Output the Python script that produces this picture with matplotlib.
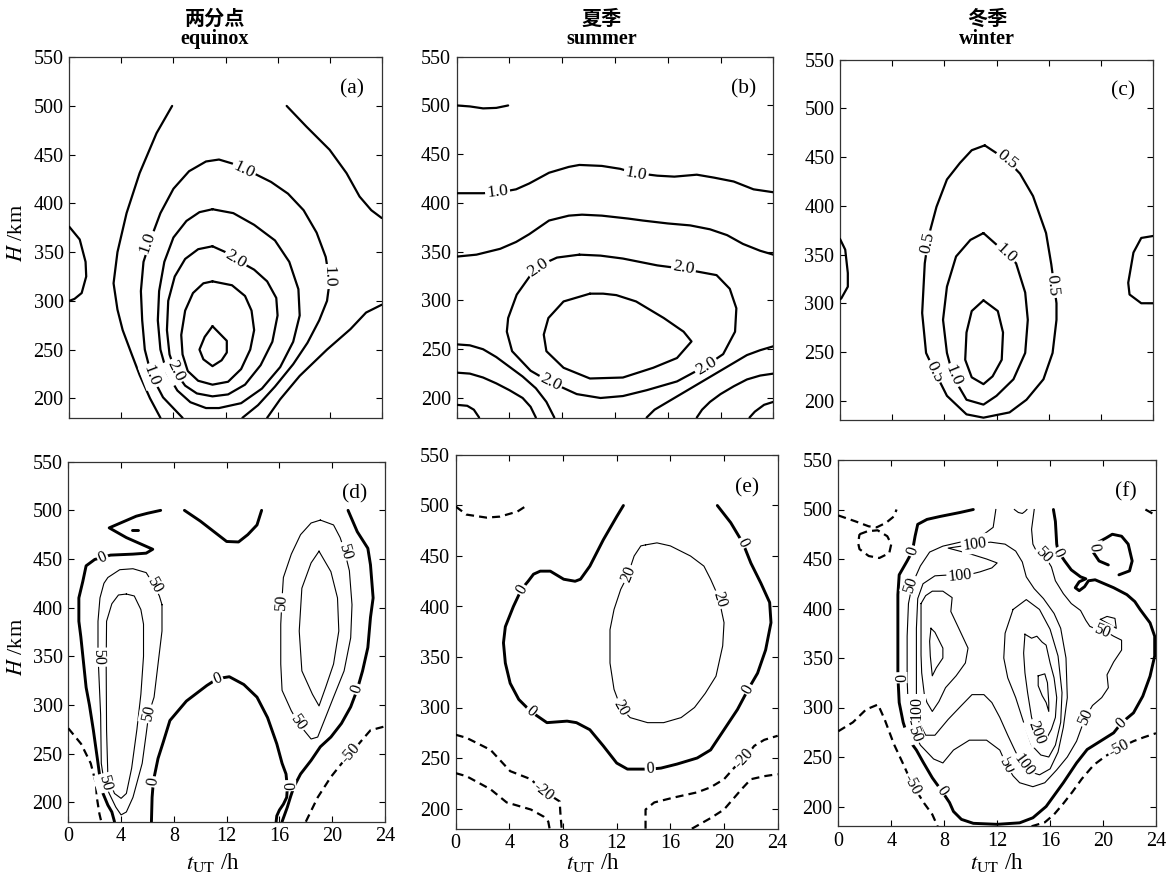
import numpy as np
import matplotlib
matplotlib.use("Agg")
import matplotlib.pyplot as plt

plt.rcParams['font.family'] = ['Liberation Serif', 'DejaVu Serif']
plt.rcParams['mathtext.fontset'] = 'stix'

# ------------------------------------------------------------------ data
time_ticks = [0, 4, 8, 12, 16, 20, 24]
height_ticks = [200, 250, 300, 350, 400, 450, 500, 550]
titles_cn = ["两分点", "夏季", "冬季"]
titles_en = ["equinox", "summer", "winter"]
panel_tags = ["(a)", "(b)", "(c)", "(d)", "(e)", "(f)"]

# contour lines, each a list of (t_UT [h], H [km])
# (a) equinox, ratio
a_05_blob = [(0, 376), (0.8, 363), (1.25, 340), (1.3, 325), (0.95, 308), (0.4, 302), (0, 300)]
a_05_left = [(7.9, 500), (6.7, 472), (5.4, 431), (4.4, 390), (3.7, 350), (3.4, 318), (3.7, 291),
             (4.1, 270), (4.8, 245), (5.4, 224), (6.2, 200), (7.0, 180)]
a_05_rtop = [(16.7, 500), (18.2, 479), (20.0, 455), (21.3, 431), (22.3, 407), (23.2, 393), (24, 385)]
a_05_rbot = [(24, 296), (22.8, 288), (21.6, 271), (19.8, 250), (17.7, 223), (16.2, 199), (15.2, 180)]
a_10 = [(8.7, 180), (7.2, 201), (6.3, 224), (5.8, 250), (5.6, 280), (5.5, 310), (5.7, 340), (6.3, 365),
        (7.0, 390), (8.0, 415), (9.2, 433), (10.5, 443), (11.5, 445), (12.5, 441), (14.0, 432),
        (15.5, 422), (16.8, 410), (18.0, 393), (19.0, 370), (19.7, 345), (20.0, 320), (19.8, 300),
        (19.2, 280), (18.3, 257), (17.2, 235), (15.8, 212), (14.5, 193), (13.3, 180)]
a_15 = [(11, 394), (12.6, 390), (14.2, 378), (15.8, 362), (16.9, 340), (17.6, 312), (17.7, 285),
        (17.2, 258), (16.2, 232), (14.8, 210), (13.2, 195), (11.5, 190), (10.5, 190), (9.3, 196),
        (8.3, 208), (7.5, 226), (7.0, 250), (6.8, 280), (6.9, 310), (7.3, 340), (8.0, 365), (9.0, 382),
        (10.0, 391), (11, 394)]
a_20 = [(11, 356), (12.0, 350), (13.0, 341), (14.2, 332), (15.2, 320), (15.9, 303), (16.0, 285),
        (15.6, 258), (14.7, 234), (13.5, 214), (12.2, 204), (11, 202), (9.8, 205), (8.9, 213),
        (8.2, 226), (7.7, 245), (7.5, 270), (7.6, 300), (8.1, 325), (8.9, 343), (9.9, 353), (11, 356)]
a_25 = [(11, 320), (12.5, 316), (13.5, 305), (14.0, 290), (14.2, 270), (13.9, 250), (13.2, 230),
        (12.2, 217), (11, 214), (9.9, 218), (9.1, 228), (8.7, 245), (8.6, 265), (8.9, 290), (9.5, 308),
        (10.3, 318), (11, 320)]
a_30 = [(11.0, 274), (12.1, 259), (12.1, 247), (11.7, 239), (11.0, 233), (10.3, 240), (10.0, 250),
        (10.4, 263), (11.0, 274)]

# (b) summer, ratio
b_05_top = [(0, 500), (1, 499), (2, 497), (3, 497.5), (3.9, 500)]
b_10 = [(0, 410), (2, 410), (3.3, 411), (4.5, 414), (5.5, 420), (7, 431), (8.5, 437), (9.3, 439),
        (11, 438), (12.4, 435), (13.4, 431), (15.2, 428), (16.5, 427), (18.2, 429), (19.5, 426),
        (21, 422), (22.5, 414), (24, 411)]
b_15 = [(0, 345), (1.5, 347), (3.3, 353), (4.5, 360), (5.5, 368), (7, 382), (8.5, 387), (9.5, 388),
        (11, 387), (13, 384), (14.1, 382), (16, 379), (17.7, 377), (19.2, 373), (20.5, 367),
        (21.7, 358), (23, 351), (24, 347)]
b_20 = [(9.3, 347), (7.6, 344), (6.3, 336), (5.6, 326), (4.55, 306), (3.9, 282), (3.8, 268),
        (4.2, 248), (5.6, 228), (7.0, 217), (9.1, 204), (10.9, 200), (12.6, 202), (14.4, 208),
        (16.7, 217), (18.9, 233), (20.2, 245), (21.1, 268), (21.2, 292), (20.7, 312), (19.7, 326),
        (16.9, 333), (15.2, 336), (12.6, 343), (10.9, 346), (9.3, 347)]
b_25 = [(10.1, 307), (8.1, 299), (6.95, 282), (6.6, 265), (6.8, 248), (8.1, 231), (10.1, 220),
        (12.6, 221), (14.9, 231), (16.7, 241), (17.8, 258), (17.2, 268), (15.7, 282), (13.6, 299),
        (12.1, 305.5), (11.1, 307), (10.1, 307)]
b_15_bl = [(0, 255), (1, 254), (2, 250), (3, 242), (4, 232), (5, 222), (6, 210), (6.8, 196), (7.4, 180)]
b_10_bl = [(0, 226), (1, 225), (2, 221), (3, 215), (4, 208), (5, 200), (5.6, 191), (6.0, 180)]
b_05_bl = [(0, 193), (0.8, 192), (1.3, 188), (1.7, 180)]
b_15_br = [(24, 253), (23, 249), (22, 244), (21, 236), (20, 228), (19, 220), (18, 212), (17, 204),
           (16, 196), (15, 188), (14.4, 180)]
b_10_br = [(24, 225), (23, 223), (22, 219), (21, 212), (20, 204), (19.2, 196), (18.6, 188), (18.2, 180)]
b_05_br = [(24, 196), (23.3, 193), (22.6, 186), (22.2, 180)]

# (c) winter, ratio
c_05 = [(11.1, 462), (12.8, 447), (13.8, 433), (14.8, 410), (15.8, 372), (16.2, 340), (16.6, 300),
        (16.6, 283), (16.3, 249), (15.6, 222), (14.3, 201), (13.0, 188), (11.0, 182.6), (9.7, 186),
        (8.2, 205), (7.3, 229), (6.6, 249), (6.3, 290), (6.5, 341), (6.8, 369), (7.4, 399), (8.2, 427),
        (9.2, 444), (10.1, 457), (11.1, 462)]
c_10 = [(11.0, 372), (12.6, 353), (13.5, 341), (14.2, 311), (14.4, 283), (14.2, 249), (13.3, 222),
        (12.0, 205), (11.0, 196), (9.7, 201), (8.7, 224), (8.2, 249), (7.9, 283), (8.2, 317),
        (8.9, 348), (10.0, 365), (11.0, 372)]
c_15 = [(11.0, 303), (12.1, 292), (12.5, 270), (12.4, 242), (11.7, 225), (11.0, 217), (10.1, 224),
        (9.6, 242), (9.7, 270), (10.1, 292), (11.0, 303)]
c_05_bl = [(0, 366), (0.4, 355), (0.6, 331), (0.6, 317), (0.1, 305), (0, 304)]
c_05_br = [(24, 369), (23.1, 367), (22.5, 352), (22.1, 321), (22.2, 309), (23.1, 300), (24, 300)]

# (d) equinox, difference
d_0_left = [(7.0, 500), (6.0, 497), (5.15, 494), (3.1, 482), (4.4, 472), (6.4, 460), (5.9, 456),
            (4.9, 455), (3.2, 454), (2.0, 449.5), (1.35, 443), (1.1, 427), (0.8, 410), (0.8, 386),
            (0.95, 370), (1.35, 318), (1.6, 300), (1.9, 274), (2.2, 245), (2.36, 229), (2.6, 210),
            (3.0, 197), (3.3, 190), (3.5, 180)]
d_0_dash = [(4.8, 480), (5.3, 480)]
d_0_mid = [(8.8, 500), (10.0, 489), (12.0, 468), (12.9, 467.5), (13.6, 475), (14.3, 485), (14.65, 500)]
d_0_arch = [(6.3, 180), (6.35, 205), (6.45, 222), (6.8, 245), (7.2, 262), (7.7, 284), (8.95, 304),
            (10.5, 320), (11.3, 327), (12.2, 329), (13.3, 321), (14.3, 308), (15.1, 287), (15.8, 260),
            (16.2, 240), (16.5, 229), (16.6, 215), (16.55, 205), (16.3, 198), (16.0, 192), (15.8, 186),
            (15.75, 180)]
d_0_right = [(21.2, 500), (21.9, 478), (22.7, 461), (22.9, 444), (23.1, 410), (22.9, 390), (22.7, 359),
             (22.3, 335), (21.9, 316), (21.4, 298), (20.7, 281), (19.9, 267), (19.1, 257), (18.4, 243),
             (17.6, 229), (17.1, 216), (16.85, 206), (16.6, 195), (16.2, 180)]
d_m50_left = [(0, 276), (0.97, 260), (1.7, 240), (2.1, 219), (2.16, 205), (2.36, 188), (2.5, 180)]
d_m50_right = [(18.0, 180), (18.9, 205), (19.9, 226), (20.9, 243), (21.4, 250), (22.2, 263),
               (22.9, 274), (24, 278)]
d_50_left = [(7.1, 403), (7.1, 376), (6.8, 342), (6.5, 308), (6.1, 291), (5.9, 270), (5.6, 240),
             (5.3, 225), (4.9, 205), (4.4, 190), (4.0, 187), (3.6, 195), (3.1, 209), (2.7, 222),
             (2.5, 240), (2.45, 290), (2.35, 321), (2.25, 352), (2.25, 386), (2.4, 410), (2.7, 425),
             (3.0, 431), (3.9, 439), (4.9, 440), (5.9, 436), (6.5, 423), (6.9, 412), (7.1, 403)]
d_100_left = [(4.4, 414), (5.0, 412), (5.5, 398), (5.7, 383), (5.7, 350), (5.5, 311), (5.2, 275),
              (4.8, 235), (4.4, 209), (4.0, 204), (3.5, 209), (3.0, 226), (2.9, 274), (2.87, 342),
              (2.9, 386), (3.3, 404), (3.8, 413), (4.4, 414)]
d_50_right = [(19.1, 490), (20.1, 485), (20.6, 472), (20.9, 460), (21.3, 438), (21.5, 403), (21.4, 369),
              (20.9, 335), (20.1, 308), (19.4, 284), (18.9, 267), (18.4, 265), (17.5, 280), (16.9, 294),
              (16.2, 315), (16.1, 342), (16.1, 383), (16.2, 410), (16.3, 431), (16.9, 455), (17.6, 475),
              (18.4, 487), (19.1, 490)]
d_100_right = [(19.0, 458), (19.9, 437), (20.4, 410), (20.5, 376), (20.1, 342), (19.5, 318), (19.0, 299),
               (18.5, 311), (17.7, 335), (17.5, 376), (17.7, 420), (18.4, 446), (19.0, 458)]

# (e) summer, difference
e_m20_top = [(0, 499), (0.8, 491), (2.3, 488), (3.3, 489), (4.6, 494), (5.3, 500)]
e_0 = [(12.5, 500), (12.0, 489), (11.0, 466), (10.0, 440), (9.3, 427), (8.9, 425), (8.05, 427),
       (7.05, 435), (6.3, 435), (5.8, 432), (5.4, 425), (4.9, 417), (4.3, 400), (3.7, 380), (3.56, 364),
       (3.7, 344), (4.06, 324), (4.7, 308), (5.6, 296), (6.8, 285), (8.3, 286.5), (9.0, 285),
       (10.0, 278), (11.0, 262), (12.0, 245), (12.8, 239), (14.0, 239), (14.5, 239), (15.3, 240),
       (16.5, 244), (18.0, 250), (19.0, 258), (20.0, 278), (21.0, 298), (21.8, 318), (22.5, 334),
       (23.1, 357), (23.5, 384), (23.4, 404), (22.75, 423), (22.0, 443), (21.4, 463), (20.5, 483),
       (19.5, 500)]
e_20 = [(14.15, 461), (15.0, 463), (16.0, 460), (17.5, 450), (18.5, 440), (19.0, 427), (19.6, 409),
        (20.0, 384), (19.9, 361), (19.4, 331), (18.6, 314), (17.8, 300), (16.8, 290), (15.5, 285),
        (14.3, 285), (13.0, 290), (12.3, 300), (11.8, 318), (11.5, 344), (11.5, 377), (11.8, 397),
        (12.3, 417), (12.8, 430), (13.3, 450), (13.8, 460), (14.15, 461)]
e_m20_a = [(0, 273), (0.8, 270), (2.6, 258), (4.06, 237), (5.6, 229), (6.55, 217), (7.4, 210),
           (7.75, 207), (7.8, 196), (7.9, 180)]
e_m20_b = [(0, 235), (0.8, 232), (2.6, 219), (3.8, 206), (5.6, 199), (6.55, 192), (6.9, 187), (7.0, 180)]
e_m20_c = [(14.15, 180), (14.15, 199), (14.8, 206), (16.3, 211), (18.0, 216), (19.0, 221), (20.0, 229),
           (21.0, 244), (21.5, 249), (22.25, 262), (23.0, 268), (24, 272)]
e_m20_d = [(17.6, 180), (19.0, 190.5), (20.0, 199), (21.3, 219), (22.0, 229), (23.0, 232), (24, 234)]

# (f) winter, difference
f_m50_top = [(0, 494), (1.3, 488), (2.3, 483), (2.9, 482), (3.6, 486.5), (4.2, 493), (4.4, 500)]
f_m50_loop = [(1.6, 475), (2.2, 478), (2.97, 479), (3.7, 473), (4.0, 465), (3.85, 456), (3.1, 451),
              (2.3, 453), (1.6, 460), (1.5, 466), (1.6, 475)]
f_m50_left = [(0, 276), (1.1, 285), (2.1, 298), (3.0, 303), (3.5, 288), (4.2, 263), (4.9, 243),
              (5.6, 222), (6.5, 203), (7.1, 192), (7.5, 180)]
f_m50_right = [(14.6, 180), (15.6, 184), (16.3, 192), (17.0, 203), (17.7, 215), (18.4, 228),
               (19.3, 242), (20.2, 251), (21.2, 259), (22.3, 266), (23.1, 270), (24, 274)]
f_m50_corner = [(23.2, 500), (23.6, 497), (24, 494)]
f_0_main = [(10.2, 500), (9.2, 497), (7.7, 493), (6.7, 490), (6.0, 485), (5.8, 473), (5.6, 458),
            (5.2, 448), (4.6, 434), (4.5, 414), (4.5, 395), (4.5, 362), (4.5, 332), (4.6, 305),
            (4.9, 285), (5.3, 268), (5.9, 257), (6.4, 245), (7.1, 229), (7.8, 216), (8.4, 204),
            (8.7, 195), (9.3, 187), (10.2, 183), (12.0, 182), (13.7, 183.5), (14.7, 188.6), (15.7, 200),
            (17.0, 224), (18.0, 244), (18.8, 257.6), (19.8, 266), (20.8, 274.4), (21.4, 284.5),
            (22.3, 294.6), (23.0, 311.4), (23.55, 331.6), (23.9, 352), (23.9, 372), (23.55, 385.5),
            (22.8, 399), (22.4, 407), (21.8, 414), (20.8, 421), (19.4, 429), (18.9, 428), (18.6, 422),
            (18.2, 418), (17.9, 421), (18.2, 427), (18.7, 430), (18.3, 432), (17.6, 439), (17.1, 448),
            (16.6, 458), (16.5, 465), (16.4, 488), (16.25, 500)]
f_0_hook = [(20.4, 444), (19.7, 448), (19.2, 458), (19.5, 466), (20.2, 471), (20.7, 475), (21.4, 473),
            (21.9, 465), (22.2, 448), (22.0, 438), (21.2, 434)]
f_50 = [(11.9, 500), (11.7, 482), (10.7, 472), (9.2, 467), (7.9, 463), (6.9, 457), (6.2, 443),
        (5.6, 425), (5.3, 405), (5.2, 372), (5.2, 328), (5.3, 295), (5.7, 275), (6.2, 262), (7.2, 248),
        (7.9, 244), (8.7, 257), (9.9, 267), (11.2, 267), (12.2, 257), (12.7, 242), (13.2, 231),
        (13.7, 224), (14.7, 220), (15.6, 224), (16.5, 237), (17.3, 250), (18.0, 266), (18.6, 288),
        (19.2, 302), (19.9, 310), (20.4, 320), (20.3, 333), (20.8, 346), (21.4, 358), (21.4, 368),
        (20.8, 372), (20.3, 376), (19.5, 379), (19.0, 382), (18.7, 388), (18.3, 398), (17.6, 405),
        (17.0, 415), (16.4, 428), (16.1, 442), (15.6, 453), (15.0, 457), (14.7, 465), (14.6, 480),
        (14.8, 500)]
f_50_islet = [(19.8, 389), (20.3, 392), (20.9, 390), (21.0, 380), (20.5, 384), (19.8, 389)]
f_50_notch = [(13.3, 500), (13.6, 497), (13.9, 496), (14.1, 498), (14.25, 500)]
f_100 = [(5.9, 300), (5.9, 330), (5.9, 380), (6.0, 410), (6.4, 425), (7.3, 433), (8.5, 434), (9.5, 433),
         (10.7, 437), (11.6, 441), (12.0, 446), (11.2, 450), (10.0, 455), (8.3, 461), (9.3, 463),
         (10.3, 465), (11.5, 467), (12.6, 465), (13.4, 458), (13.9, 447), (14.2, 432), (14.8, 420),
         (15.5, 410), (16.3, 395), (16.8, 380), (17.2, 350), (17.3, 310), (17.0, 280), (16.6, 255),
         (16.0, 238), (15.2, 232), (14.5, 235), (14.0, 242), (13.4, 255), (12.8, 272), (12.2, 290),
         (11.6, 305), (11.0, 313), (10.1, 313), (9.3, 302), (8.3, 288), (7.3, 272), (6.6, 272),
         (6.1, 285), (5.9, 300)]
f_150_left = [(6.25, 405), (6.6, 413), (7.1, 417.5), (7.9, 417.5), (8.6, 411), (8.5, 397), (9.1, 380),
              (9.8, 360), (9.6, 345), (8.9, 332), (8.1, 320), (7.6, 306), (7.1, 296), (6.7, 305),
              (6.5, 313), (6.3, 335), (6.25, 353), (6.25, 380), (6.25, 405)]
f_200_left = [(7.0, 380), (7.3, 376), (7.9, 360), (7.9, 350), (7.4, 340), (7.1, 332), (6.95, 352),
              (6.9, 367), (7.0, 380)]
f_150_right = [(13.2, 399), (14.2, 409), (15.2, 399), (16.0, 379), (16.6, 352), (16.9, 315), (16.8, 285),
               (16.4, 262), (15.9, 250), (15.3, 252), (14.6, 262), (14.0, 285), (13.4, 310), (12.8, 330),
               (12.5, 350), (12.6, 375), (13.2, 399)]
f_200_right = [(14.1, 374), (14.6, 370), (15.0, 372), (15.4, 366), (15.7, 363), (16.0, 345), (16.3, 330),
               (16.5, 310), (16.4, 290), (16.1, 278), (15.7, 268), (15.3, 266), (15.0, 273), (14.6, 290),
               (14.3, 315), (14.1, 335), (14.0, 355), (14.1, 374)]
f_250_right = [(15.1, 332), (15.6, 334), (15.8, 325), (15.9, 305), (15.9, 296), (15.7, 305), (15.4, 312),
               (15.1, 322), (15.1, 332)]

# ------------------------------------------------------------------ styles
TOP = dict(color='black', lw=1.6, solid_capstyle='round', solid_joinstyle='round')
ZERO = dict(color='black', lw=2.1, solid_capstyle='round', solid_joinstyle='round')
THIN = dict(color='black', lw=0.8, solid_joinstyle='round')
NEG = dict(color='black', lw=1.6, linestyle=(0, (3.6, 2.3)))

panels = [
    dict(rect=(69.3, 57.2, 381.7, 417.8),
         lines=[(a_05_blob, TOP), (a_05_left, TOP), (a_05_rtop, TOP), (a_05_rbot, TOP), (a_10, TOP),
                (a_15, TOP), (a_20, TOP), (a_25, TOP), (a_30, TOP)],
         labels=[(a_10, "1.0", 13.4, 434), (a_10, "1.0", 6.0, 360), (a_10, "1.0", 19.95, 325),
                 (a_10, "1.0", 6.3, 223), (a_20, "2.0", 12.8, 343), (a_20, "2.0", 8.15, 228)]),
    dict(rect=(456.7, 56.7, 773.3, 417.5),
         lines=[(b_05_top, TOP), (b_10, TOP), (b_15, TOP), (b_20, TOP), (b_25, TOP), (b_15_bl, TOP),
                (b_10_bl, TOP), (b_05_bl, TOP), (b_15_br, TOP), (b_10_br, TOP), (b_05_br, TOP)],
         labels=[(b_10, "1.0", 3.1, 411), (b_10, "1.0", 13.6, 430), (b_20, "2.0", 6.2, 334),
                 (b_20, "2.0", 17.2, 333), (b_20, "2.0", 7.1, 216), (b_20, "2.0", 18.9, 233)]),
    dict(rect=(840.0, 59.6, 1153.0, 420.2),
         lines=[(c_05, TOP), (c_10, TOP), (c_15, TOP), (c_05_bl, TOP), (c_05_br, TOP)],
         labels=[(c_05, "0.5", 12.8, 447), (c_05, "0.5", 16.3, 318), (c_05, "0.5", 7.25, 230),
                 (c_05, "0.5", 6.75, 362), (c_10, "1.0", 12.7, 351), (c_10, "1.0", 8.7, 226)]),
    dict(rect=(68.3, 461.7, 385.0, 821.7),
         lines=[(d_0_left, ZERO), (d_0_dash, ZERO), (d_0_mid, ZERO), (d_0_arch, ZERO), (d_0_right, ZERO),
                (d_m50_left, NEG), (d_m50_right, NEG), (d_50_left, THIN), (d_100_left, THIN),
                (d_50_right, THIN), (d_100_right, THIN)],
         labels=[(d_0_left, "0", 2.6, 451.5), (d_0_arch, "0", 6.45, 221), (d_0_arch, "0", 11.3, 327),
                 (d_0_arch, "0", 16.55, 217), (d_0_right, "0", 21.9, 316), (d_m50_right, "-50", 21.4, 250),
                 (d_50_left, "50", 2.28, 349), (d_50_left, "50", 6.1, 291), (d_50_left, "50", 6.5, 423),
                 (d_50_left, "50", 2.75, 220), (d_50_right, "50", 20.95, 458),
                 (d_50_right, "50", 17.4, 282), (d_50_right, "50", 16.15, 405)]),
    dict(rect=(455.7, 455.0, 777.7, 828.7),
         lines=[(e_m20_top, NEG), (e_0, ZERO), (e_20, THIN), (e_m20_a, NEG), (e_m20_b, NEG),
                (e_m20_c, NEG), (e_m20_d, NEG)],
         labels=[(e_0, "0", 4.9, 417), (e_0, "0", 5.6, 296), (e_0, "0", 14.5, 239), (e_0, "0", 21.8, 318),
                 (e_0, "0", 21.4, 463), (e_20, "20", 12.85, 432), (e_20, "20", 19.65, 407),
                 (e_20, "20", 12.3, 300), (e_m20_a, "-20", 6.55, 217), (e_m20_c, "-20", 21.5, 250)]),
    dict(rect=(838.3, 460.0, 1156.0, 826.3),
         lines=[(f_m50_top, NEG), (f_m50_loop, NEG), (f_m50_left, NEG), (f_m50_right, NEG),
                (f_m50_corner, NEG), (f_0_main, ZERO), (f_0_hook, ZERO), (f_50, THIN), (f_50_islet, THIN),
                (f_50_notch, THIN), (f_100, THIN), (f_150_left, THIN), (f_200_left, THIN),
                (f_150_right, THIN), (f_200_right, THIN), (f_250_right, THIN)],
         labels=[(f_0_main, "0", 5.6, 458), (f_0_main, "0", 4.5, 330), (f_0_main, "0", 7.8, 216),
                 (f_0_main, "0", 21.4, 284.5), (f_0_main, "0", 16.6, 456), (f_0_hook, "0", 19.3, 462),
                 (f_50, "50", 5.5, 424), (f_50, "50", 5.75, 273), (f_50, "50", 12.7, 242),
                 (f_50, "50", 18.65, 290), (f_50, "50", 15.5, 454), (f_50, "50", 19.9, 377),
                 (f_100, "100", 10.3, 465), (f_100, "100", 9.2, 433), (f_100, "100", 5.9, 300),
                 (f_100, "100", 14.0, 242), (f_200_right, "200", 14.95, 275),
                 (f_m50_left, "-50", 5.6, 222), (f_m50_right, "-50", 21.2, 259)]),
]

# ------------------------------------------------------------------ figure
W, H = 1172, 877
fig = plt.figure(figsize=(W / 100, H / 100), dpi=100)


def place_label(ax, line, text, t, h, size):
    pts = np.asarray(line, float)
    disp = ax.transData.transform(pts)
    p = ax.transData.transform((t, h))
    i = int(np.argmin(np.hypot(*(disp - p).T)))
    j0, j1 = max(i - 1, 0), min(i + 1, len(pts) - 1)
    dx, dy = disp[j1] - disp[j0]
    ang = np.degrees(np.arctan2(dy, dx))
    if ang > 90:
        ang -= 180
    if ang <= -90:
        ang += 180
    ax.text(t, h, text, rotation=ang, rotation_mode='anchor', ha='center', va='center',
            fontsize=size, zorder=6,
            bbox=dict(boxstyle='square,pad=0.1', fc='white', ec='none'))


for k, pnl in enumerate(panels):
    x0, y0, x1, y1 = pnl['rect']
    ax = fig.add_axes([x0 / W, 1 - y1 / H, (x1 - x0) / W, (y1 - y0) / H])
    ax.set_xlim(0, 24)
    ax.set_ylim(180, 550)
    ax.set_xticks(time_ticks)
    ax.set_yticks(height_ticks)
    ax.tick_params(direction='in', top=True, right=True, length=4, width=0.8,
                   labelsize=14.5, pad=4)
    if k < 3:
        ax.tick_params(labelbottom=False)
    for s in ax.spines.values():
        s.set_linewidth(0.9)
        s.set_color('#333333')
    for pts, st in pnl['lines']:
        arr = np.asarray(pts, float)
        ax.plot(arr[:, 0], arr[:, 1], zorder=3, **st)
    size = 12.5 if k < 3 else 11.5
    for line, text, t, h in pnl['labels']:
        place_label(ax, line, text, t, h, size)
    ax.text(0.905, 0.912, panel_tags[k], transform=ax.transAxes, ha='center', va='center',
            fontsize=15.5)

# titles
for xc, cn, en in zip([215, 602, 987], titles_cn, titles_en):
    fig.text(xc / W, 1 - 18 / H, cn, ha='center', va='center', fontsize=14.5, fontweight='bold',
             family=['Noto Sans CJK SC', 'DejaVu Sans'])
    fig.text(xc / W, 1 - 39 / H, en, ha='center', va='center', fontsize=14.5, fontweight='bold')

# axis labels
for yc in [233, 647]:
    fig.text(18 / W, 1 - yc / H, r"$H$ /km", rotation=90, ha='center', va='center', fontsize=16)
for xc in [213, 593, 997]:
    fig.text(xc / W, 1 - 862 / H, r"$t_{\mathrm{UT}}$ /h", ha='center', va='center', fontsize=16.5)

fig.savefig("out.png", dpi=100)
